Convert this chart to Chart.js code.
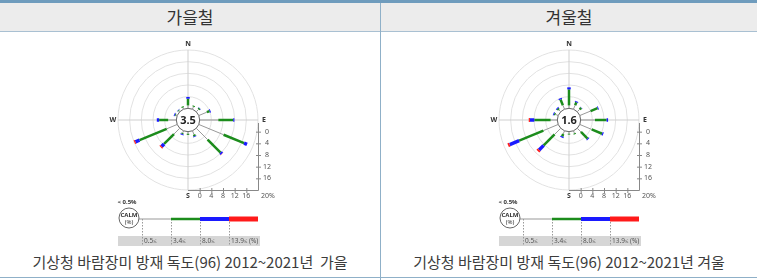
<!DOCTYPE html>
<html>
<head>
<meta charset="utf-8">
<script src="https://cdn.jsdelivr.net/npm/chart.js@4.4.0/dist/chart.umd.min.js"></script>
<style>
body { margin: 0; width: 757px; height: 280px; background: #fff; position: relative; overflow: hidden;
       font-family: "Noto Sans CJK KR", "Noto Sans", sans-serif; color: #333; }
.topline { position: absolute; left: 0; top: 0; width: 757px; height: 3px; background: #6f9cbd; }
.head { position: absolute; top: 3px; height: 28px; background: #ececec; border-bottom: 1px solid #a9c0d2;
        font-size: 17px; line-height: 28px; text-align: center; color: #333; }
.divider { position: absolute; left: 380px; top: 3px; width: 1px; height: 277px; background: #8fb0c8; }
.bottomline { position: absolute; left: 0; top: 277px; width: 757px; height: 1px; background: #8fb0c8; }
.caption { position: absolute; top: 251px; height: 22px; font-size: 15px; line-height: 22px; text-align: center; color: #3c3c3c; }
canvas { position: absolute; top: 32px; }
</style>
</head>
<body>
<div class="topline"></div>
<div class="head" style="left:0;width:380px">가을철</div>
<div class="head" style="left:381px;width:376px">겨울철</div>
<div class="divider"></div>
<canvas id="autumn" width="380" height="216" style="left:0"></canvas>
<canvas id="winter" width="376" height="216" style="left:381px"></canvas>
<div class="caption" style="left:0;width:380px">기상청 바람장미 방재 독도(96) 2012~2021년&nbsp;&nbsp;가을</div>
<div class="caption" style="left:381px;width:376px">기상청 바람장미 방재 독도(96) 2012~2021년 겨울</div>
<div class="bottomline"></div>

<script>
// 풍향 16방위
const directions = ['N', 'NNE', 'NE', 'ENE', 'E', 'ESE', 'SE', 'SSE', 'S', 'SSW', 'SW', 'WSW', 'W', 'WNW', 'NW', 'NNW'];
const radialTicks = [0, 4, 8, 12, 16, 20];
const speedLabels = ['0.5≤', '3.4≤', '8.0≤', '13.9≤'];

// 가을 (%) - 풍속 구간별 빈도
const autumnCalm = 3.5;
const autumnBin1 = [1.0, 0.9, 1.1, 3.0, 6.4, 9.2, 5.5, 1.4, 0.7, 0.8, 2.8, 3.9, 2.8, 0.5, 0.4, 0.6];
const autumnBin2 = [2.3, 0.4, 0.5, 1.0, 5.1, 7.6, 6.3, 0.6, 0.4, 0.4, 4.8, 10.1, 3.1, 0.3, 0.3, 0.4];
const autumnBin3 = [0.6, 0, 0.1, 0.3, 0.4, 1.1, 0.6, 0.2, 0, 0.3, 1.2, 1.5, 0.8, 0.3, 0.1, 0];
const autumnBin4 = [0, 0, 0, 0, 0, 0, 0.1, 0, 0, 0, 0.4, 0.4, 0, 0, 0, 0];

// 겨울 (%)
const winterCalm = 1.6;
const winterBin1 = [1.0, 1.5, 1.2, 4.0, 4.9, 4.4, 1.8, 0.9, 0.7, 1.2, 3.0, 5.5, 2.3, 1.0, 0.9, 1.5];
const winterBin2 = [5.5, 1.1, 0.7, 2.6, 4.0, 3.9, 3.2, 0.4, 0.3, 0.9, 5.3, 9.0, 5.6, 0.5, 0.6, 2.1];
const winterBin3 = [0.7, 0.3, 0.1, 0.3, 0.5, 0.4, 0.3, 0, 0, 0.4, 2.2, 3.5, 1.5, 0.3, 0.3, 0.4];
const winterBin4 = [0, 0, 0, 0, 0, 0, 0, 0, 0, 0, 0.6, 0.6, 0.4, 0, 0, 0];

const binColors = ['#999999', '#1c8c1c', '#1a1aff', '#ff1a1a'];
const binWidths = [1, 2.5, 3.5, 4];

// 바람장미 막대, 중심원, 축, 범례 그리기
const rosePlugin = {
    id: 'rose',
    afterDatasetsDraw(chart) {
        const ctx = chart.ctx;
        const r = chart.scales.r;
        const sets = chart.data.datasets;
        const c = r.getPointPositionForValue(0, r.min);
        const R = r.getDistanceFromCenterForValue(r.max);
        ctx.save();

        directions.forEach((d, i) => {
            let from = 0;
            sets.forEach((ds, k) => {
                const v = ds.data[i];
                if (v > 0) {
                    const a = r.getPointPositionForValue(i, from);
                    const b = r.getPointPositionForValue(i, from + v);
                    ctx.beginPath();
                    ctx.moveTo(a.x, a.y);
                    ctx.lineTo(b.x, b.y);
                    ctx.strokeStyle = binColors[k];
                    ctx.lineWidth = binWidths[k];
                    ctx.lineCap = 'butt';
                    ctx.stroke();
                }
                from += v;
            });
        });

        // 중심 원 (무풍)
        const r0 = r.getDistanceFromCenterForValue(0);
        ctx.beginPath();
        ctx.arc(c.x, c.y, r0, 0, Math.PI * 2);
        ctx.fillStyle = '#fff';
        ctx.fill();
        ctx.lineWidth = 1;
        ctx.strokeStyle = '#666';
        ctx.stroke();
        ctx.fillStyle = '#222';
        ctx.font = 'bold 11px "Noto Sans"';
        ctx.textAlign = 'center';
        ctx.textBaseline = 'middle';
        ctx.fillText(chart.options.calm.toFixed(1), c.x, c.y + 0.5);

        // 방위 글자
        ctx.font = 'bold 7px "Noto Sans"';
        ctx.fillStyle = '#333';
        ctx.fillText('N', c.x, c.y - R - 6);
        ctx.fillText('W', c.x - R - 5, c.y);
        ctx.fillText('E', c.x + R + 6, c.y);
        ctx.fillText('S', c.x, c.y + R + 6);

        // 오른쪽 아래 눈금 축
        ctx.strokeStyle = '#888';
        ctx.lineWidth = 1;
        ctx.beginPath();
        ctx.moveTo(c.x + R + 0.5, c.y + 3);
        ctx.lineTo(c.x + R + 0.5, c.y + R + 0.5);
        ctx.lineTo(c.x, c.y + R + 0.5);
        ctx.stroke();
        ctx.font = '7px "Noto Sans"';
        ctx.fillStyle = '#555';
        radialTicks.forEach(v => {
            const dd = r.getDistanceFromCenterForValue(v);
            ctx.beginPath();
            if (v < r.max) {
                ctx.moveTo(c.x + R - 2, c.y + dd + 0.5);
                ctx.lineTo(c.x + R + 3, c.y + dd + 0.5);
                ctx.moveTo(c.x + dd + 0.5, c.y + R - 2);
                ctx.lineTo(c.x + dd + 0.5, c.y + R + 3);
                ctx.stroke();
                ctx.fillText(String(v), c.x + R + 9, c.y + dd);
                ctx.fillText(String(v), c.x + dd, c.y + R + 6);
            } else {
                ctx.textAlign = 'left';
                ctx.fillText(v + '%', c.x + R + 3, c.y + R + 6);
                ctx.textAlign = 'center';
            }
        });

        // 범례
        const lx = 142, step = 29, ly = 187;
        ctx.fillStyle = '#d6d6d6';
        ctx.fillRect(118, 204, 142, 10);
        ctx.strokeStyle = '#999';
        ctx.setLineDash([1.5, 1.5]);
        for (let k = 0; k < 4; k++) {
            ctx.beginPath();
            ctx.moveTo(lx + k * step + 0.5, ly);
            ctx.lineTo(lx + k * step + 0.5, 214);
            ctx.stroke();
        }
        ctx.setLineDash([]);
        const legendWidths = [1, 2.5, 4, 5];
        for (let k = 0; k < 4; k++) {
            ctx.beginPath();
            ctx.moveTo(k === 0 ? 139 : lx + k * step, ly);
            ctx.lineTo(lx + (k + 1) * step, ly);
            ctx.strokeStyle = binColors[k];
            ctx.lineWidth = legendWidths[k];
            ctx.lineCap = 'butt';
            ctx.stroke();
        }
        ctx.beginPath();
        ctx.arc(129, 186, 10, 0, Math.PI * 2);
        ctx.fillStyle = '#fff';
        ctx.fill();
        ctx.strokeStyle = '#666';
        ctx.lineWidth = 1;
        ctx.stroke();
        ctx.fillStyle = '#333';
        ctx.textAlign = 'center';
        ctx.font = 'bold 6px "Noto Sans"';
        ctx.fillText('< 0.5%', 127, 170);
        ctx.fillText('CALM', 129, 183);
        ctx.font = '6px "Noto Sans"';
        ctx.fillText('(%)', 129, 190);
        ctx.textAlign = 'left';
        ctx.fillStyle = '#555';
        ctx.font = '6.5px "Noto Sans"';
        speedLabels.forEach((s, k) => ctx.fillText(s, lx + k * step + 2, 209.5));
        ctx.fillText('(%)', lx + 3 * step + 20, 209.5);
        ctx.restore();
    }
};

function makeRose(id, calm, bins, width) {
    new Chart(document.getElementById(id), {
        type: 'radar',
        data: {
            labels: directions,
            datasets: bins.map(b => ({
                data: b, showLine: false, fill: false, borderWidth: 0,
                backgroundColor: 'rgba(0,0,0,0)', borderColor: 'rgba(0,0,0,0)',
                pointRadius: 0, pointHoverRadius: 0
            }))
        },
        options: {
            responsive: false,
            animation: false,
            devicePixelRatio: 1,
            calm: calm,
            layout: { padding: { left: 118, right: width - 258, top: 18, bottom: 58 } },
            plugins: { legend: { display: false }, tooltip: { enabled: false } },
            scales: {
                r: {
                    min: -4,
                    max: 20,
                    ticks: { display: false, stepSize: 4 },
                    pointLabels: { display: false },
                    grid: { circular: true, color: ctx => (ctx.tick && ctx.tick.value > 0 ? '#e2e2e2' : 'rgba(0,0,0,0)') },
                    angleLines: { color: ctx => (ctx.index % 4 === 0 ? '#cfcfcf' : 'rgba(0,0,0,0)') }
                }
            }
        },
        plugins: [rosePlugin]
    });
}

makeRose('autumn', autumnCalm, [autumnBin1, autumnBin2, autumnBin3, autumnBin4], 380);
makeRose('winter', winterCalm, [winterBin1, winterBin2, winterBin3, winterBin4], 376);
</script>
</body>
</html>
